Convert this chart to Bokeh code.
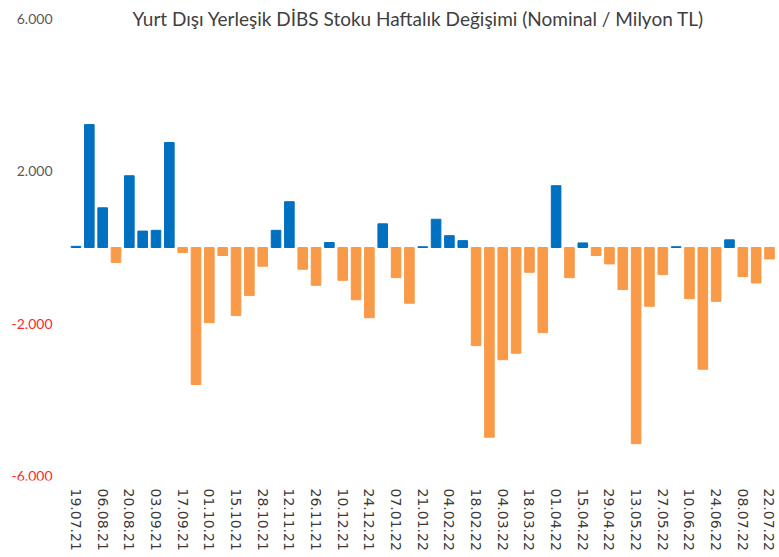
from bokeh.plotting import figure
from bokeh.models import Range1d, FixedTicker, Label, ColumnDataSource
from bokeh.embed import file_html
from bokeh.resources import INLINE

title_text = "Yurt Dışı Yerleşik DİBS Stoku Haftalık Değişimi (Nominal / Milyon TL)"

tick_labels = ["19.07.21", "06.08.21", "20.08.21", "03.09.21", "17.09.21", "01.10.21",
               "15.10.21", "28.10.21", "12.11.21", "26.11.21", "10.12.21", "24.12.21",
               "07.01.22", "21.01.22", "04.02.22", "18.02.22", "04.03.22", "18.03.22",
               "01.04.22", "15.04.22", "29.04.22", "13.05.22", "27.05.22", "10.06.22",
               "24.06.22", "08.07.22", "22.07.22"]

values = [30, 3220, 1040, -390, 1880, 430, 450, 2750, -130, -3590,
          -1970, -210, -1780, -1260, -490, 450, 1200, -570, -990, 130,
          -860, -1370, -1840, 620, -790, -1460, 20, 740, 310, 180,
          -2570, -4970, -2940, -2770, -650, -2230, 1620, -790, 120, -210,
          -430, -1100, -5140, -1540, -710, 20, -1340, -3190, -1410, 200,
          -760, -930, -300]

y_ticks = [6000, 2000, -2000, -6000]
y_tick_labels = ["6.000", "2.000", "-2.000", "-6.000"]

BLUE = "#0070C0"
ORANGE = "#F99A48"
RED = "#FF2A2A"
GRAY = "#595959"
FONT = "Lato"

xs = list(range(len(values)))
colors = [BLUE if v > 0 else ORANGE for v in values]
src = ColumnDataSource(dict(x=xs, top=values, color=colors))

# the frame spans the whole canvas; the value labels sit in its left margin
p = figure(width=779, height=557, output_backend="svg", toolbar_location=None,
           x_range=Range1d(-5.66, 52.75), y_range=Range1d(-6105, 6472),
           min_border_left=0, min_border_right=0, min_border_top=0, min_border_bottom=77)
p.outline_line_color = None
p.xgrid.visible = False
p.ygrid.visible = False
p.yaxis.visible = False
p.background_fill_color = "white"
p.border_fill_color = "white"

p.vbar(x="x", top="top", bottom=0, width=0.72, color="color", source=src)

# x axis
xt = [2 * i for i in range(len(tick_labels))]
p.xaxis.ticker = FixedTicker(ticks=xt)
p.xaxis.major_label_overrides = {t: lab for t, lab in zip(xt, tick_labels)}
p.xaxis.major_label_orientation = "vertical"
p.xaxis.axis_line_color = None
p.xaxis.major_tick_line_color = None
p.xaxis.minor_tick_line_color = None
p.xaxis.major_tick_out = 0
p.xaxis.major_label_standoff = 8
p.xaxis.major_label_text_font = "DejaVu Sans"
p.xaxis.major_label_text_font_size = "14px"
p.xaxis.major_label_text_color = "#3a3a3a"

# value-axis labels: grey for positive, red for negative
for t, lab in zip(y_ticks, y_tick_labels):
    p.add_layout(Label(x=52, x_units="screen", y=t, y_units="data", text=lab,
                       text_align="right", text_baseline="middle",
                       text_font=FONT, text_font_size="14px",
                       text_color=GRAY if t > 0 else RED))

p.add_layout(Label(x=418, y=462, x_units="screen", y_units="screen", text=title_text,
                   text_align="center", text_baseline="middle",
                   text_font=FONT, text_font_size="19px",
                   text_color="#404040"))

open("out.html", "w").write(file_html(p, INLINE))
